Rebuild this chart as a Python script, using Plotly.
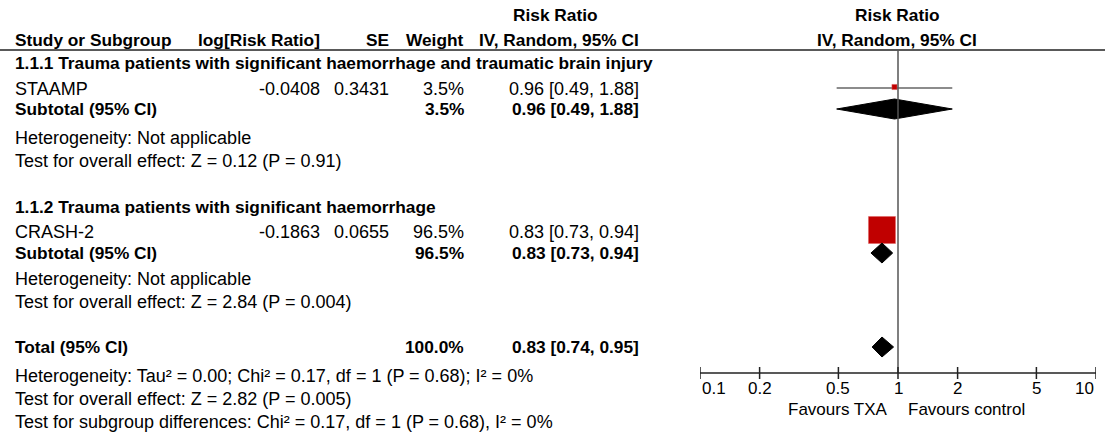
import plotly.graph_objects as go
import math

# ---------------- data ----------------
studies = ["STAAMP", "CRASH-2"]
log_rr = ["-0.0408", "-0.1863"]
se_vals = ["0.3431", "0.0655"]
weights = [3.5, 96.5]
rr = [0.96, 0.83]
rr_lo = [0.49, 0.73]
rr_hi = [1.88, 0.94]

subgroups = ["1.1.1 Trauma patients with significant haemorrhage and traumatic brain injury",
             "1.1.2 Trauma patients with significant haemorrhage"]
sub_weight = [3.5, 96.5]
sub_rr = [0.96, 0.83]
sub_lo = [0.49, 0.73]
sub_hi = [1.88, 0.94]
sub_het = ["Heterogeneity: Not applicable", "Heterogeneity: Not applicable"]
sub_test = ["Test for overall effect: Z = 0.12 (P = 0.91)",
            "Test for overall effect: Z = 2.84 (P = 0.004)"]

total_weight = 100.0
total_rr = 0.83
total_lo = 0.74
total_hi = 0.95
total_notes = ["Heterogeneity: Tau² = 0.00; Chi² = 0.17, df = 1 (P = 0.68); I² = 0%",
               "Test for overall effect: Z = 2.82 (P = 0.005)",
               "Test for subgroup differences: Chi² = 0.17, df = 1 (P = 0.68), I² = 0%"]

tick_vals = [0.1, 0.2, 0.5, 1, 2, 5, 10]
tick_text = ["0.1", "0.2", "0.5", "1", "2", "5", "10"]
favours = ["Favours TXA", "Favours control"]

# ---------------- layout constants ----------------
W, H = 1105, 436
FONT = "Liberation Sans, Arial, sans-serif"
FS = 18       # regular text
FSB = 17.3    # bold text
FST = 17      # axis text
X_STUDY, X_LOG, X_SE, X_W, X_CI = 13, 322, 391, 466, 641
AX_Y = 373

fig = go.Figure()
ann = []


def txt(x, y, s, bold=False, anchor="left"):
    ann.append(dict(x=x / W, y=y, xref="paper", yref="y", text=f"<b>{s}</b>" if bold else s,
                    showarrow=False, xanchor=anchor, yanchor="middle",
                    font=dict(family=FONT, size=FSB if bold else FS, color="black")))


def fmt_ci(r, lo, hi):
    return f"{r:.2f} [{lo:.2f}, {hi:.2f}]"


# headers
txt(555, 15, "Risk Ratio", bold=True, anchor="center")
txt(X_STUDY, 40, "Study or Subgroup", bold=True)
txt(X_LOG, 40, "log[Risk Ratio]", bold=True, anchor="right")
txt(X_SE, 40, "SE", bold=True, anchor="right")
txt(X_W, 40, "Weight", bold=True, anchor="right")
txt(X_CI, 40, "IV, Random, 95% CI", bold=True, anchor="right")
txt(897, 15, "Risk Ratio", bold=True, anchor="center")
txt(897, 40, "IV, Random, 95% CI", bold=True, anchor="center")

row_title = [63, 207]
row_study = [89, 232]
row_sub = [109, 253]
row_het = [138, 279]
row_test = [161, 302]

for i in range(2):
    txt(X_STUDY, row_title[i], subgroups[i], bold=True)
    txt(X_STUDY, row_study[i], studies[i])
    txt(X_LOG, row_study[i], log_rr[i], anchor="right")
    txt(X_SE, row_study[i], se_vals[i], anchor="right")
    txt(X_W, row_study[i], f"{weights[i]:.1f}%", anchor="right")
    txt(X_CI, row_study[i], fmt_ci(rr[i], rr_lo[i], rr_hi[i]), anchor="right")
    txt(X_STUDY, row_sub[i], "Subtotal (95% CI)", bold=True)
    txt(X_W, row_sub[i], f"{sub_weight[i]:.1f}%", bold=True, anchor="right")
    txt(X_CI, row_sub[i], fmt_ci(sub_rr[i], sub_lo[i], sub_hi[i]), bold=True, anchor="right")
    txt(X_STUDY, row_het[i], sub_het[i])
    txt(X_STUDY, row_test[i], sub_test[i])

txt(X_STUDY, 347, "Total (95% CI)", bold=True)
txt(X_W, 347, f"{total_weight:.1f}%", bold=True, anchor="right")
txt(X_CI, 347, fmt_ci(total_rr, total_lo, total_hi), bold=True, anchor="right")
for y, s in zip([376, 399, 422], total_notes):
    txt(X_STUDY, y, s)

# ---------------- forest plot ----------------
shapes = []
# header rule
shapes.append(dict(type="line", xref="paper", yref="y", x0=0, x1=1, y0=50, y1=50,
                   line=dict(color="#222", width=1.5)))
# line of no effect
shapes.append(dict(type="line", xref="x", yref="y", x0=1, x1=1, y0=50, y1=AX_Y,
                   line=dict(color="#555", width=1.5)))
# axis
shapes.append(dict(type="line", xref="x", yref="y", x0=tick_vals[0], x1=tick_vals[-1],
                   y0=AX_Y, y1=AX_Y, line=dict(color="#222", width=1.5)))
for i, (v, t) in enumerate(zip(tick_vals, tick_text)):
    shapes.append(dict(type="line", xref="x", yref="y", x0=v, x1=v, y0=AX_Y - 6, y1=AX_Y + 6,
                       line=dict(color="#222", width=1.5)))
    anc = "left" if i == 0 else ("right" if i == len(tick_vals) - 1 else "center")
    ann.append(dict(x=math.log10(v), y=388, xref="x", yref="y", text=t, showarrow=False,
                    xanchor=anc, yanchor="middle",
                    font=dict(family=FONT, size=FST, color="black")))
ann.append(dict(x=math.log10(1), y=409, xref="x", yref="y", text=favours[0], showarrow=False,
                xanchor="right", yanchor="middle", xshift=-8,
                font=dict(family=FONT, size=FST, color="black")))
ann.append(dict(x=math.log10(1), y=409, xref="x", yref="y", text=favours[1], showarrow=False,
                xanchor="left", yanchor="middle", xshift=8,
                font=dict(family=FONT, size=FST, color="black")))

# study CIs and squares
for i in range(2):
    fig.add_trace(go.Scatter(x=[rr_lo[i], rr_hi[i]], y=[row_study[i] - 1, row_study[i] - 1],
                             mode="lines", line=dict(color="#666", width=1.5),
                             showlegend=False, hoverinfo="skip"))
for i in range(2):
    fig.add_trace(go.Scatter(x=[rr[i]], y=[row_study[i] - 2], mode="markers",
                             marker=dict(symbol="square", size=2.75 * math.sqrt(weights[i]),
                                         color="#c00000", line=dict(color="#e06060", width=0.5)),
                             showlegend=False, hoverinfo="skip"))


def diamond(r, lo, hi, yc, h=10):
    fig.add_trace(go.Scatter(x=[lo, r, hi, r, lo], y=[yc, yc - h, yc, yc + h, yc],
                             mode="lines", fill="toself", fillcolor="black",
                             line=dict(color="black", width=1), showlegend=False,
                             hoverinfo="skip"))


for i in range(2):
    diamond(sub_rr[i], sub_lo[i], sub_hi[i], row_sub[i])
diamond(total_rr, total_lo, total_hi, 347)

fig.update_layout(
    width=W, height=H, margin=dict(l=0, r=0, t=0, b=0),
    paper_bgcolor="white", plot_bgcolor="white",
    xaxis=dict(type="log", range=[-1, 1], domain=[700 / W, 1096 / W], visible=False),
    yaxis=dict(range=[H, 0], domain=[0, 1], visible=False),
    annotations=ann, shapes=shapes, showlegend=False,
)

fig.write_html("out.html", config={"displayModeBar": False},
               post_script="document.body.style.margin='0';document.body.style.overflow='hidden';")
